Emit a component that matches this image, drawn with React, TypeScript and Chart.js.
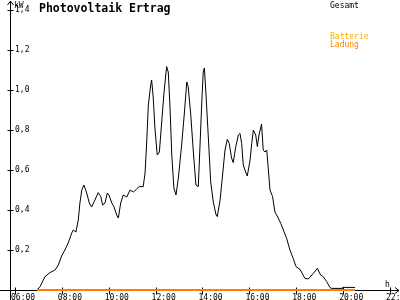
import React, { useEffect, useRef } from "react";
import { Chart, registerables } from "chart.js";

Chart.register(...registerables);

const title = "Photovoltaik Ertrag";
const yUnit = "kW";
const xUnit = "h";
const legendLabels = ["Gesamt", "Batterie", "Ladung"];
const legendColors = ["#000000", "#ffaa00", "#ff8000"];

const xTickValues = [6, 8, 10, 12, 14, 16, 18, 20, 22];
const xTickLabels = ["06:00", "08:00", "10:00", "12:00", "14:00", "16:00", "18:00", "20:00", "22:00"];
const yTickValues = [0, 0.2, 0.4, 0.6, 0.8, 1.0, 1.2, 1.4];
const yTickLabels = ["", "0,2", "0,4", "0,6", "0,8", "1,0", "1,2", "1,4"];

const gesamtTimes = [
  6.94, 7.07, 7.28, 7.49, 7.71, 7.85, 7.99, 8.13, 8.27, 8.42, 8.49, 8.6, 8.7, 8.77, 8.85, 8.94,
  9.06, 9.17, 9.27, 9.41, 9.55, 9.66, 9.74, 9.84, 9.94, 10.01, 10.13, 10.22, 10.34, 10.41, 10.51,
  10.62, 10.77, 10.91, 11.05, 11.19, 11.3, 11.47, 11.55, 11.62, 11.69, 11.79, 11.83, 11.9, 11.97,
  12.07, 12.16, 12.26, 12.36, 12.47, 12.54, 12.61, 12.69, 12.78, 12.87, 12.97, 13.11, 13.22, 13.33,
  13.39, 13.5, 13.61, 13.72, 13.82, 13.89, 13.97, 14.03, 14.08, 14.15, 14.25, 14.35, 14.46, 14.58,
  14.63, 14.75, 14.86, 14.96, 15.06, 15.14, 15.24, 15.31, 15.42, 15.53, 15.6, 15.67, 15.74, 15.84,
  15.91, 16.03, 16.1, 16.17, 16.27, 16.34, 16.41, 16.52, 16.59, 16.67, 16.74, 16.81, 16.88, 16.99,
  17.09, 17.23, 17.34, 17.45, 17.59, 17.73, 17.87, 17.99, 18.16, 18.37, 18.51, 18.73, 18.9, 19.04,
  19.15, 19.3, 19.44, 19.51, 19.98, 19.98, 20.51,
];
const gesamtValues = [
  0, 0.017, 0.067, 0.087, 0.1, 0.125, 0.17, 0.2, 0.235, 0.285, 0.3, 0.29, 0.35, 0.435, 0.5, 0.525,
  0.485, 0.435, 0.415, 0.45, 0.487, 0.467, 0.425, 0.435, 0.485, 0.475, 0.435, 0.417, 0.375, 0.36, 0.435,
  0.475, 0.465, 0.5, 0.49, 0.505, 0.517, 0.517, 0.585, 0.74, 0.925, 1.025, 1.05, 0.96, 0.81,
  0.675, 0.69, 0.84, 0.99, 1.117, 1.09, 0.925, 0.675, 0.51, 0.475, 0.56, 0.725, 0.875, 1.04,
  1.017, 0.875, 0.69, 0.525, 0.517, 0.71, 0.94, 1.09, 1.11, 0.975, 0.76, 0.54, 0.44, 0.375,
  0.367, 0.45, 0.58, 0.7, 0.753, 0.733, 0.66, 0.637, 0.717, 0.775, 0.783, 0.733, 0.625, 0.59,
  0.57, 0.65, 0.733, 0.8, 0.775, 0.717, 0.775, 0.83, 0.7, 0.69, 0.7, 0.6, 0.5, 0.467,
  0.39, 0.36, 0.333, 0.3, 0.258, 0.2, 0.158, 0.117, 0.103, 0.058, 0.055, 0.083, 0.108, 0.075,
  0.067, 0.042, 0.012, 0.008, 0.008, 0.013, 0.013,
];

const ladungTimes = [6.94, 20.51];
const ladungValues = [0, 0];

const X_MIN = 5.7867;
const X_MAX = 22.3413;
const MONO = "'DejaVu Sans Mono', monospace";

const overlay = {
  id: "overlay",
  beforeDatasetsDraw(chart: any) {
    const ctx = chart.ctx;
    const xs = chart.scales.x;
    const ys = chart.scales.y;
    const x0 = Math.round(xs.left) + 0.5;
    const y0 = Math.round(ys.getPixelForValue(0)) + 0.5;
    ctx.save();
    ctx.strokeStyle = "#000";
    ctx.lineWidth = 1;
    ctx.beginPath();
    // y axis
    ctx.moveTo(x0, 300);
    ctx.lineTo(x0, 1);
    ctx.moveTo(x0 - 3, 5);
    ctx.lineTo(x0, 1);
    ctx.lineTo(x0 + 3, 5);
    // x axis
    ctx.moveTo(0, y0);
    ctx.lineTo(399, y0);
    ctx.moveTo(395, y0 - 3);
    ctx.lineTo(399, y0);
    ctx.lineTo(395, y0 + 3);
    // x tick marks
    xTickValues.forEach((v) => {
      const px = Math.round(xs.getPixelForValue(v)) + 0.5;
      ctx.moveTo(px, y0 - 3);
      ctx.lineTo(px, y0 + 4);
    });
    // y tick marks
    yTickValues.forEach((v) => {
      if (v === 0) return;
      const py = Math.round(ys.getPixelForValue(v)) + 0.5;
      ctx.moveTo(x0 - 3, py);
      ctx.lineTo(x0 + 3, py);
    });
    ctx.stroke();
    ctx.restore();
  },
  afterDraw(chart: any) {
    const ctx = chart.ctx;
    ctx.save();
    ctx.textBaseline = "alphabetic";
    ctx.textAlign = "left";
    ctx.fillStyle = "#000";
    ctx.font = `bold 11.5px ${MONO}`;
    ctx.fillText(title, 39, 11.5);
    ctx.font = `8px ${MONO}`;
    ctx.fillText(yUnit, 14, 7.5);
    ctx.fillText(xUnit, 385, 287);
    const ly = [8, 38.5, 46.5];
    legendLabels.forEach((l, i) => {
      ctx.fillStyle = legendColors[i];
      ctx.fillText(l, 330, ly[i]);
    });
    ctx.restore();
  },
};

export default function App() {
  const ref = useRef<HTMLCanvasElement | null>(null);
  useEffect(() => {
    if (!ref.current) return;
    const chart = new Chart(ref.current, {
      type: "line",
      data: {
        datasets: [
          {
            label: legendLabels[2],
            data: ladungTimes.map((t, i) => ({ x: t, y: ladungValues[i] })),
            borderColor: legendColors[2],
            borderWidth: 2,
            pointRadius: 0,
            clip: false as any,
          },
          {
            label: legendLabels[0],
            data: gesamtTimes.map((t, i) => ({ x: t, y: gesamtValues[i] })),
            borderColor: legendColors[0],
            borderWidth: 1,
            pointRadius: 0,
            tension: 0,
          },
        ],
      },
      options: {
        animation: false,
        responsive: false,
        devicePixelRatio: 1,
        layout: { padding: { top: 10, right: 2, left: 0, bottom: 0 } },
        plugins: { legend: { display: false }, tooltip: { enabled: false }, title: { display: false } },
        scales: {
          x: {
            type: "linear",
            min: X_MIN,
            max: X_MAX,
            grid: { display: false, drawTicks: false },
            border: { display: false },
            ticks: {
              autoSkip: false,
              maxRotation: 0,
              minRotation: 0,
              padding: 3,
              align: "start",
              labelOffset: -4,
              color: "#000",
              font: { family: MONO, size: 8 },
              callback: (v: any) => {
                const i = xTickValues.indexOf(Number(v));
                return i >= 0 ? xTickLabels[i] : "";
              },
            },
            afterBuildTicks: (s: any) => {
              s.ticks = xTickValues.map((v) => ({ value: v }));
            },
            afterFit: (s: any) => {
              s.height = 10;
              s.paddingLeft = 0;
              s.paddingRight = 0;
            },
          },
          y: {
            min: 0,
            max: 1.4,
            grid: { display: false, drawTicks: false },
            border: { display: false },
            ticks: {
              mirror: true,
              padding: 5,
              color: "#000",
              font: { family: MONO, size: 8 },
              callback: (v: any) => {
                const i = yTickValues.findIndex((t) => Math.abs(t - Number(v)) < 1e-6);
                return i >= 0 ? yTickLabels[i] : "";
              },
            },
            afterBuildTicks: (s: any) => {
              s.ticks = yTickValues.map((v) => ({ value: v }));
            },
            afterFit: (s: any) => {
              s.width = 10;
              s.paddingTop = 0;
              s.paddingBottom = 0;
            },
          },
        },
      },
      plugins: [overlay],
    });
    return () => chart.destroy();
  }, []);
  return (
    <div style={{ position: "fixed", left: 0, top: 0, width: 400, height: 300, background: "#fff" }}>
      <canvas ref={ref} width={400} height={300} style={{ width: 400, height: 300, display: "block" }} />
    </div>
  );
}
